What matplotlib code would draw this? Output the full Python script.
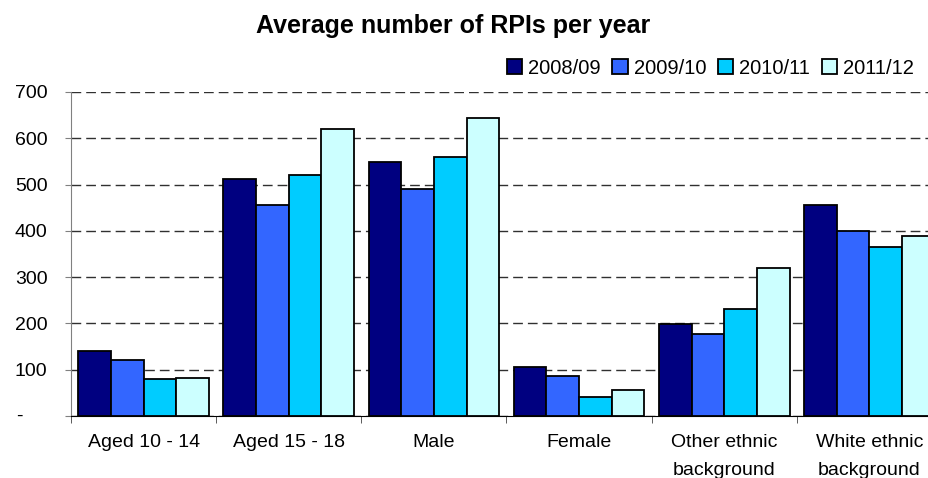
import numpy as np
import matplotlib.pyplot as plt

plt.rcParams['font.family'] = ['Liberation Sans', 'DejaVu Sans']

categories = ["Aged 10 - 14", "Aged 15 - 18", "Male", "Female",
              "Other ethnic\nbackground", "White ethnic\nbackground"]
years = ["2008/09", "2009/10", "2010/11", "2011/12"]
v_2008 = [141, 513, 548, 106, 198, 456]
v_2009 = [121, 456, 490, 86, 178, 399]
v_2010 = [79, 520, 559, 41, 231, 365]
v_2011 = [83, 620, 643, 56, 319, 388]
series = [v_2008, v_2009, v_2010, v_2011]
colors = ["#000080", "#3366FF", "#00CCFF", "#CCFFFF"]

fig = plt.figure(figsize=(9.29, 4.78), dpi=100)
ax = fig.add_axes([71 / 929, 1 - 416 / 478, 871 / 929, 324 / 478])

x = np.arange(len(categories))
w = 0.9 / 4
for i, (vals, c, lab) in enumerate(zip(series, colors, years)):
    ax.bar(x - 0.45 + w * (i + 0.5), vals, width=w, color=c,
           edgecolor="black", linewidth=1.3, label=lab, zorder=3)

ax.set_xlim(-0.5, len(categories) - 0.5)
ax.set_ylim(0, 700)
ax.set_yticks(range(0, 701, 100))
ax.set_yticklabels([""] + [str(v) for v in range(100, 701, 100)])
# Excel accounting style: zero shown as a dash further left
ax.annotate("-", xy=(0, 0), xycoords=("axes fraction", "data"),
            xytext=(-37, 0), textcoords="offset points",
            ha="center", va="center", fontsize=14)
ax.yaxis.grid(True, linestyle=(0, (7, 3.6)), color="#303030", linewidth=1, zorder=0)

ax.set_xticks(x)
ax.set_xticklabels(categories, linespacing=1.85)
ax.set_xticks(np.arange(len(categories) + 1) - 0.5, minor=True)
ax.tick_params(axis="x", which="major", length=0, pad=13, labelsize=14)
ax.tick_params(axis="x", which="minor", length=5, direction="out", color="#404040")
ax.tick_params(axis="y", length=4, color="#808080", labelsize=14, pad=13)

for s in ["top", "right"]:
    ax.spines[s].set_visible(False)
ax.spines["left"].set_color("#808080")
ax.spines["bottom"].set_color("black")

fig.text(453 / 929, 1 - 33 / 478, "Average number of RPIs per year",
         ha="center", va="baseline", fontsize=18, fontweight="bold")

fig.legend(loc="center right", bbox_to_anchor=(0.995, 1 - 68 / 478),
           ncol=4, frameon=False, fontsize=14.5, handlelength=0.75, handleheight=0.75,
           handletextpad=0.3, columnspacing=0.6, borderpad=0)

fig.savefig("out.png", dpi=100)
